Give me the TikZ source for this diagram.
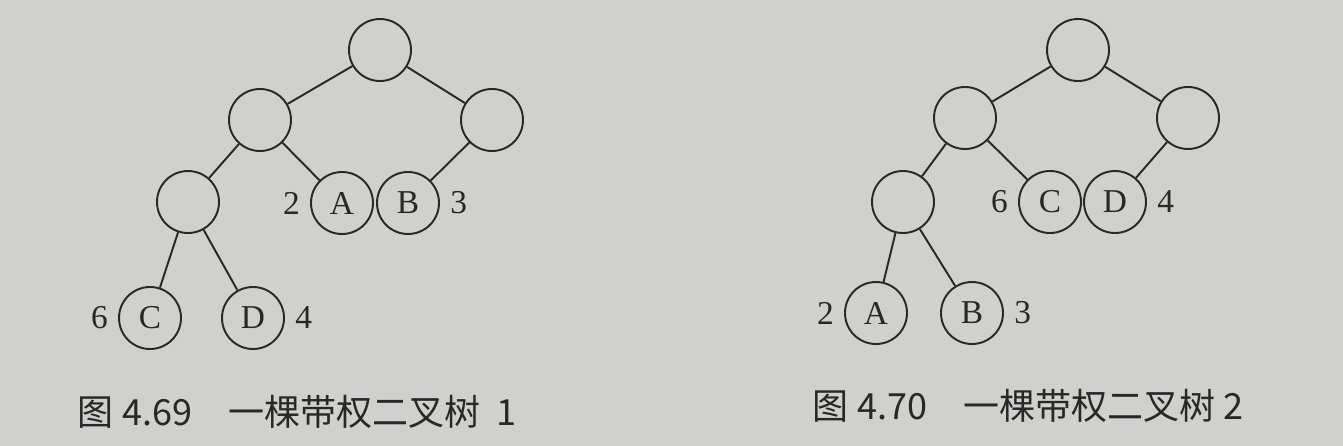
\documentclass[tikz,border=0pt]{standalone}
\usepackage{fontspec}
\setmainfont{Liberation Serif}
\newfontfamily\cjk{Noto Sans CJK SC}
\usetikzlibrary{positioning}

\definecolor{paper}{RGB}{208,208,206}
\definecolor{ink}{RGB}{40,40,40}

\tikzset{
  tnode/.style={circle, draw=ink, line width=1.1pt, minimum size=1.24cm, inner sep=0pt,
    text=ink, font=\fontsize{19pt}{22pt}\selectfont},
  every label/.style={text=ink, font=\fontsize{19pt}{22pt}\selectfont},
  label distance=2pt,
  caption/.style={anchor=base west, text=ink, inner sep=0pt,
    font=\cjk\fontsize{20.5pt}{24pt}\selectfont}
}

\begin{document}
\begin{tikzpicture}[on grid, line width=1.1pt, draw=ink]
  \fill[paper] (0,0) rectangle (26.86,-8.92);

  % tree 1
  \node[tnode] (r1) at (7.6,-1.0) {};
  \node[tnode] (p1) [below left=1.4cm and 2.4cm of r1]   {};
  \node[tnode] (q1) [below right=1.4cm and 2.24cm of r1] {};
  \node[tnode] (s1) [below left=1.64cm and 1.44cm of p1] {};
  \node[tnode, label=left:2]  (a1) [below right=1.66cm and 1.64cm of p1] {A};
  \node[tnode, label=right:3] (b1) [below left=1.66cm and 1.68cm of q1]  {B};
  \node[tnode, label=left:6]  (c1) [below left=2.32cm and 0.76cm of s1]  {C};
  \node[tnode, label=right:4] (d1) [below right=2.32cm and 1.3cm of s1]  {D};

  \draw[ink]
    (r1) edge (p1)
         edge (q1)
    (p1) edge (s1)
         edge (a1)
    (q1) edge (b1)
    (s1) edge (c1)
         edge (d1);

  % tree 2
  \node[tnode] (r2) at (21.56,-1.0) {};
  \node[tnode] (p2) [below left=1.36cm and 2.26cm of r2] {};
  \node[tnode] (q2) [below right=1.36cm and 2.2cm of r2] {};
  \node[tnode] (s2) [below left=1.68cm and 1.24cm of p2] {};
  \node[tnode, label=left:6]  (c2) [below right=1.68cm and 1.7cm of p2] {C};
  \node[tnode, label=right:4] (d2) [below left=1.68cm and 1.46cm of q2] {D};
  \node[tnode, label=left:2]  (a2) [below left=2.22cm and 0.54cm of s2] {A};
  \node[tnode, label=right:3] (b2) [below right=2.22cm and 1.38cm of s2] {B};

  \draw[ink]
    (r2) edge (p2)
         edge (q2)
    (p2) edge (s2)
         edge (c2)
    (q2) edge (d2)
    (s2) edge (a2)
         edge (b2);

  % captions
  \node[caption] (cap1) at (1.54,-8.5)   {图 4.69\quad 一棵带权二叉树\ \ 1};
  \node[caption] (cap2) at (16.24,-8.38) {图 4.70\quad 一棵带权二叉树 2};
\end{tikzpicture}
\end{document}
